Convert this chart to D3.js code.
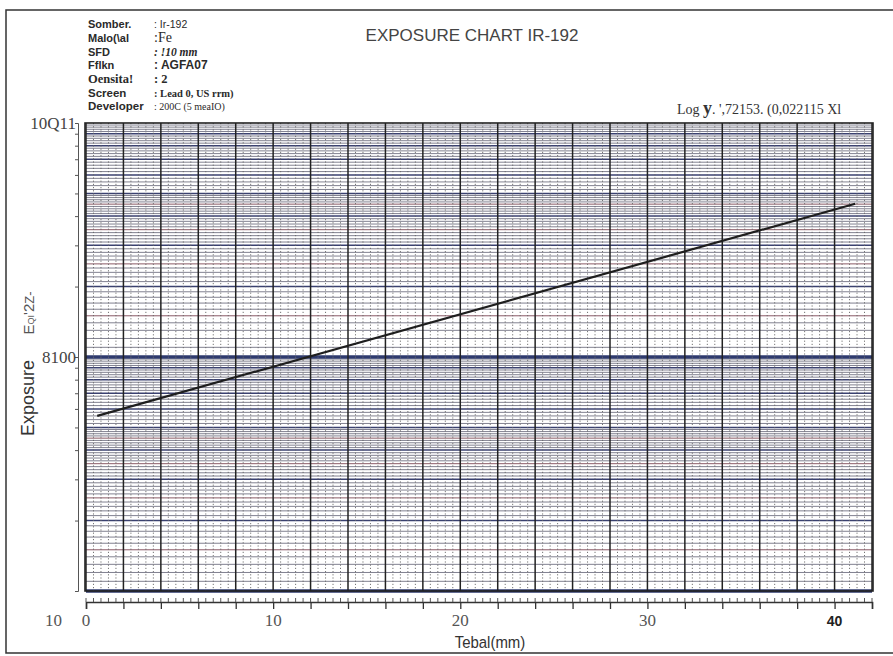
<!DOCTYPE html>
<html>
<head>
<meta charset="utf-8">
<script src="https://cdn.jsdelivr.net/npm/d3@7"></script>
<style>
  body { margin: 0; background: #fff; }
  svg { display: block; }
</style>
</head>
<body>
<div id="chart"></div>
<script>
// data
const thickness = [0.6, 41.1];          // Tebal (mm)
const exposure = [56, 452];             // exposure at those thicknesses
const xTicks = [0, 10, 20, 30, 40];
const xTickLabels = ["0", "10", "20", "30", "40"];
const yTicks = [1000, 100];
const yTickLabels = ["10Q11", "8100"];
const yBottomLabel = "10";
const infoLabels = ["Somber.", "Malo(\\al", "SFD", "Fflkn", "Oensita!", "Screen", "Developer"];
const infoValues = [": Ir-192", ":Fe", ": !10  mm", ": AGFA07", ": 2", ": Lead  0, US  rrm)", ": 200C  (5 meaIO)"];

const W = 893, H = 656;
const svg = d3.select("#chart").append("svg").attr("width", W).attr("height", H);

const x = d3.scaleLinear().domain([0, 42]).range([86, 872]);
const y = d3.scaleLog().domain([10, 1000]).range([591, 123]);

// outer frame of the scan
svg.append("path")
    .attr("d", `M${W},10 H6 V653 H${W}`)
    .attr("fill", "none").attr("stroke", "#333").attr("stroke-width", 1.5);

// horizontal log grid
const hLines = [];
[10, 100].forEach(dec => {
    for (let m = 1; m < 10; m = +(m + (m < 5 ? 0.1 : 0.2)).toFixed(2)) {
        hLines.push({ v: dec * m, m: m });
    }
});
const grid = svg.append("g");
grid.selectAll("line.h").data(hLines).join("line")
    .attr("x1", x(0)).attr("x2", x(42))
    .attr("y1", d => y(d.v)).attr("y2", d => y(d.v))
    .attr("stroke", d => {
        if (d.m === 1) return "#2e3a6e";
        if (Number.isInteger(d.m)) return "#3a4170";
        if (Number.isInteger(d.m * 2)) return "#8a5a66";
        return "#6a6a7c";
    })
    .attr("stroke-width", d => d.m === 1 ? 3.5 : Number.isInteger(d.m) ? 1.5 : Number.isInteger(d.m * 2) ? 1 : 0.85);

// vertical minor dotted lines every 0.4 mm
const vMinor = d3.range(0, 42.01, 0.4).map(v => +v.toFixed(1)).filter(v => Math.abs(v / 2 - Math.round(v / 2)) > 0.01);
grid.selectAll("line.vm").data(vMinor).join("line")
    .attr("x1", d => x(d)).attr("x2", d => x(d))
    .attr("y1", y(1000)).attr("y2", y(10))
    .attr("stroke", "#666").attr("stroke-width", 0.9)
    .attr("stroke-dasharray", "1.2,2");

// vertical major lines every 2 mm
grid.selectAll("line.vM").data(d3.range(0, 43, 2)).join("line")
    .attr("x1", d => x(d)).attr("x2", d => x(d))
    .attr("y1", y(1000)).attr("y2", y(10))
    .attr("stroke", "#222").attr("stroke-width", 1.5);

// plot border
svg.append("rect")
    .attr("x", x(0) - 1).attr("y", y(1000))
    .attr("width", x(42) - x(0) + 2).attr("height", y(10) - y(1000))
    .attr("fill", "none").attr("stroke", "#222").attr("stroke-width", 1.6);

// left log axis
const yAxis = d3.axisLeft(y)
    .tickValues(hLines.filter(d => Number.isInteger(d.m)).map(d => d.v).concat([1000]))
    .tickSize(3).tickFormat("");
svg.append("g")
    .attr("transform", "translate(78,0)")
    .call(yAxis)
    .call(g => g.select(".domain").attr("stroke", "#555"))
    .call(g => g.selectAll(".tick line").attr("stroke", "#555"));

svg.append("g").selectAll("text").data(yTicks).join("text")
    .attr("x", 76).attr("y", (d) => y(d) + 6)
    .attr("text-anchor", "end")
    .attr("font-family", "Liberation Serif, DejaVu Serif, serif")
    .attr("font-size", 17).attr("fill", "#444")
    .text((d, i) => yTickLabels[i]);

// bottom axis
const xAxis = d3.axisBottom(x).tickValues(d3.range(0, 43, 2)).tickSize(7).tickFormat("");
svg.append("g")
    .attr("transform", `translate(0,${y(10) + 11})`)
    .call(xAxis)
    .call(g => g.select(".domain").attr("stroke", "#333").attr("stroke-width", 1.5))
    .call(g => g.selectAll(".tick line").attr("stroke", "#333").attr("stroke-width", 1.3));
svg.append("g").selectAll("line").data(d3.range(0, 42.01, 0.4)).join("line")
    .attr("x1", d => x(d)).attr("x2", d => x(d))
    .attr("y1", y(10) + 11).attr("y2", y(10) + 7)
    .attr("stroke", "#555").attr("stroke-width", 1);

svg.append("g").selectAll("text").data(xTicks).join("text")
    .attr("x", d => x(d)).attr("y", y(10) + 35)
    .attr("text-anchor", "middle")
    .attr("font-family", (d, i) => i === 4 ? "Liberation Sans, Arial, sans-serif" : "Liberation Serif, DejaVu Serif, serif")
    .attr("font-weight", (d, i) => i === 4 ? "bold" : "normal")
    .attr("font-size", (d, i) => i === 4 ? 14 : 17)
    .attr("fill", (d, i) => i === 4 ? "#222" : "#555")
    .text((d, i) => xTickLabels[i]);

svg.append("text")
    .attr("x", 62).attr("y", y(10) + 35)
    .attr("text-anchor", "end")
    .attr("font-family", "Liberation Serif, DejaVu Serif, serif")
    .attr("font-size", 17).attr("fill", "#555")
    .text(yBottomLabel);

svg.append("text")
    .attr("x", 490).attr("y", 648)
    .attr("text-anchor", "middle")
    .attr("font-family", "Liberation Sans, Arial, sans-serif")
    .attr("font-size", 17).attr("fill", "#333")
    .attr("transform", "translate(490,648) scale(0.88,1) translate(-490,-648)")
    .text("Tebal(mm)");

// y title
svg.append("text")
    .attr("transform", "translate(34,398) rotate(-90)")
    .attr("text-anchor", "middle")
    .attr("font-family", "Liberation Sans, Arial, sans-serif")
    .attr("font-size", 18).attr("fill", "#333")
    .text("Exposure");
const yu = svg.append("text")
    .attr("transform", "translate(34,313) rotate(-90)")
    .attr("text-anchor", "middle")
    .attr("font-family", "Liberation Sans, Arial, sans-serif")
    .attr("fill", "#555");
yu.append("tspan").attr("font-size", 15).text("E");
yu.append("tspan").attr("font-size", 9).text("QI");
yu.append("tspan").attr("font-size", 15).text("'2");
yu.append("tspan").attr("font-size", 13).text("Z-");

// exposure line
const line = d3.line().x((d, i) => x(thickness[i])).y(d => y(d));
svg.append("path")
    .datum(exposure)
    .attr("d", line)
    .attr("fill", "none").attr("stroke", "#1e1e1e").attr("stroke-width", 2.2);

// header info block
const rowY = [28, 42, 56, 69, 83, 97, 110];
const labelFont = ["sans", "sans", "sans", "sans", "serif", "sans", "sans"];
const valueFont = ["sans", "serif", "serif", "sans", "serif", "serif", "serif"];
const valueSize = [10.5, 14, 11.5, 12, 12.5, 10.5, 10];
const info = svg.append("g").attr("fill", "#2a2a2a");
info.selectAll("text.l").data(infoLabels).join("text")
    .attr("x", 88).attr("y", (d, i) => rowY[i])
    .attr("font-family", (d, i) => labelFont[i] === "sans" ? "Liberation Sans, Arial, sans-serif" : "Liberation Serif, serif")
    .attr("font-weight", "bold")
    .attr("font-size", (d, i) => i === 4 ? 12.5 : i >= 5 ? 11.5 : 11)
    .text(d => d);
info.selectAll("text.v").data(infoValues).join("text")
    .attr("x", 154).attr("y", (d, i) => rowY[i])
    .attr("font-family", (d, i) => valueFont[i] === "sans" ? "Liberation Sans, Arial, sans-serif" : "Liberation Serif, serif")
    .attr("font-weight", (d, i) => [2, 3, 4, 5].includes(i) ? "bold" : "normal")
    .attr("font-style", (d, i) => i === 2 ? "italic" : "normal")
    .attr("font-size", (d, i) => valueSize[i])
    .text(d => d);

// title
svg.append("text")
    .attr("x", 472).attr("y", 41)
    .attr("text-anchor", "middle")
    .attr("font-family", "Liberation Sans, Arial, sans-serif")
    .attr("font-size", 17).attr("fill", "#444")
    .text("EXPOSURE CHART IR-192");

// regression equation
const eq = svg.append("text")
    .attr("x", 677).attr("y", 114)
    .attr("font-family", "Liberation Serif, DejaVu Serif, serif")
    .attr("font-size", 14).attr("fill", "#333");
eq.append("tspan").text("Log ");
eq.append("tspan").attr("font-size", 18).attr("font-weight", "bold").text("y");
eq.append("tspan").text(". ',72153.    (0,022115  Xl");
</script>
</body>
</html>
